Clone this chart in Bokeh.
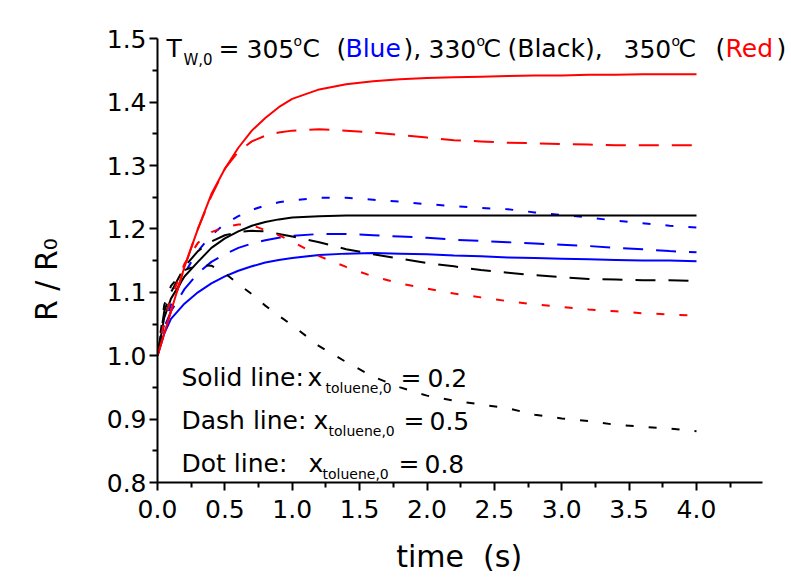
from bokeh.plotting import figure
from bokeh.models import FixedTicker, Label
from bokeh.embed import file_html
from bokeh.resources import INLINE

# ---------------- data ----------------
time_s = [0, 0.05, 0.1, 0.2, 0.3, 0.4, 0.5, 0.6, 0.7, 0.8, 0.9, 1.0, 1.2, 1.4, 1.6,
          1.8, 2.0, 2.2, 2.4, 2.6, 2.8, 3.0, 3.2, 3.4, 3.6, 3.8, 4.0]

# T_w,0 = 305 C (blue)
blue_x02 = [1.000, 1.035, 1.058, 1.082, 1.100, 1.114, 1.125, 1.134, 1.141, 1.147, 1.151, 1.154, 1.159, 1.161, 1.162,
            1.161, 1.160, 1.158, 1.157, 1.155, 1.154, 1.153, 1.152, 1.151, 1.150, 1.150, 1.149]
blue_x05 = [1.000, 1.045, 1.070, 1.105, 1.130, 1.148, 1.160, 1.170, 1.177, 1.182, 1.186, 1.189, 1.192, 1.192, 1.190,
            1.188, 1.186, 1.183, 1.181, 1.179, 1.177, 1.175, 1.173, 1.170, 1.168, 1.165, 1.163]
blue_x08 = [1.000, 1.050, 1.080, 1.130, 1.165, 1.190, 1.208, 1.220, 1.230, 1.237, 1.242, 1.245, 1.249, 1.249, 1.246,
            1.243, 1.239, 1.236, 1.233, 1.231, 1.226, 1.222, 1.218, 1.213, 1.209, 1.205, 1.202]
# T_w,0 = 330 C (black)
black_x02 = [1.000, 1.060, 1.090, 1.125, 1.148, 1.170, 1.185, 1.196, 1.205, 1.211, 1.215, 1.218, 1.220, 1.221, 1.221,
             1.221, 1.221, 1.221, 1.221, 1.221, 1.221, 1.221, 1.221, 1.221, 1.221, 1.221, 1.221]
black_x05 = [1.000, 1.070, 1.100, 1.140, 1.165, 1.180, 1.190, 1.195, 1.197, 1.196, 1.192, 1.188, 1.179, 1.168, 1.160,
             1.153, 1.146, 1.141, 1.135, 1.131, 1.127, 1.124, 1.121, 1.120, 1.119, 1.119, 1.118]
black_x08 = [1.000, 1.080, 1.110, 1.135, 1.143, 1.142, 1.130, 1.113, 1.097, 1.079, 1.063, 1.048, 1.015, 0.990, 0.967,
             0.950, 0.937, 0.929, 0.923, 0.917, 0.907, 0.901, 0.897, 0.891, 0.888, 0.885, 0.881]
# T_w,0 = 350 C (red)
red_x02 = [1.000, 1.035, 1.070, 1.140, 1.200, 1.255, 1.295, 1.328, 1.355, 1.375, 1.392, 1.405, 1.420, 1.428, 1.433,
           1.436, 1.438, 1.439, 1.440, 1.441, 1.442, 1.442, 1.443, 1.443, 1.444, 1.444, 1.444]
red_x05 = [1.000, 1.035, 1.070, 1.140, 1.200, 1.252, 1.295, 1.322, 1.338, 1.347, 1.352, 1.355, 1.357, 1.355, 1.352,
           1.348, 1.344, 1.340, 1.338, 1.336, 1.335, 1.334, 1.333, 1.332, 1.332, 1.332, 1.332]
red_x08 = [1.000, 1.055, 1.090, 1.145, 1.178, 1.195, 1.203, 1.207, 1.206, 1.198, 1.190, 1.180, 1.157, 1.140, 1.125,
           1.114, 1.106, 1.098, 1.092, 1.086, 1.081, 1.077, 1.073, 1.070, 1.067, 1.065, 1.063]

x_ticks = [0.0, 0.5, 1.0, 1.5, 2.0, 2.5, 3.0, 3.5, 4.0]
x_tick_labels = ["0.0", "0.5", "1.0", "1.5", "2.0", "2.5", "3.0", "3.5", "4.0"]
x_minor = [0.25, 0.75, 1.25, 1.75, 2.25, 2.75, 3.25, 3.75, 4.25]
y_ticks = [0.8, 0.9, 1.0, 1.1, 1.2, 1.3, 1.4, 1.5]
y_tick_labels = ["0.8", "0.9", "1.0", "1.1", "1.2", "1.3", "1.4", "1.5"]
y_minor = [0.85, 0.95, 1.05, 1.15, 1.25, 1.35, 1.45]
x_axis_extent = (0.0, 4.49)
y_axis_extent = (0.8, 1.5)

FONT = "DejaVu Sans"
NB = "\u00a0"

# frame spans up to the canvas top/right so the title text is not clipped;
# the axis lines are limited with bounds
XS, YS = 134.75, 634.0          # pixels per data unit
FW, FH = 632, 482
p = figure(frame_width=FW, frame_height=FH, min_border_left=157, min_border_right=0,
           min_border_top=0, min_border_bottom=96,
           x_range=(0, FW / XS), y_range=(0.8, 0.8 + FH / YS),
           output_backend="svg", toolbar_location=None)
p.title.visible = False
p.outline_line_color = None
p.xgrid.visible = False
p.ygrid.visible = False
p.background_fill_color = "white"
p.border_fill_color = "white"

p.xaxis.ticker = FixedTicker(ticks=x_ticks, minor_ticks=x_minor)
p.yaxis.ticker = FixedTicker(ticks=y_ticks, minor_ticks=y_minor)
p.xaxis.major_label_overrides = dict(zip(x_ticks, x_tick_labels))
p.yaxis.major_label_overrides = dict(zip(y_ticks, y_tick_labels))
p.xaxis.bounds = x_axis_extent
p.yaxis.bounds = y_axis_extent
for ax in (p.xaxis[0], p.yaxis[0]):
    ax.axis_line_width = 2
    ax.major_tick_line_width = 2
    ax.minor_tick_line_width = 2
    ax.major_tick_in = 0
    ax.major_tick_out = 8
    ax.minor_tick_in = 0
    ax.minor_tick_out = 5
    ax.major_label_text_font = FONT
    ax.major_label_text_font_size = "25px"
    ax.major_label_text_color = "black"
    ax.axis_label_text_font = FONT
    ax.axis_label_text_font_style = "normal"
    ax.axis_label_text_color = "black"
p.xaxis.major_label_standoff = 9
p.yaxis.major_label_standoff = 3
p.xaxis.axis_label = "time" + NB + NB + "(s)" + NB * 3
p.xaxis.axis_label_text_font_size = "30px"
p.xaxis.axis_label_standoff = 18
p.yaxis.axis_label = "R / R\u2080" + NB * 8
p.yaxis.axis_label_text_font_size = "30px"
p.yaxis.axis_label_standoff = 40

series = [
    (blue_x02, "blue", "solid"), (blue_x05, "blue", "20 13"), (blue_x08, "blue", "8 15"),
    (black_x02, "black", "solid"), (black_x05, "black", "20 13"), (black_x08, "black", "8 15"),
    (red_x02, "red", "solid"), (red_x05, "red", "20 13"), (red_x08, "red", "8 15"),
]
for vals, col, dash in series:
    p.line(time_s, vals, line_color=col, line_width=2, line_dash=dash)

# page-pixel -> data helpers for text placement
def dx(px):
    return (px - 157) / XS

def dy(py):
    return 0.8 + (482 - py) / YS

def lab(text, px, py, size, color="black"):
    p.add_layout(Label(x=dx(px), y=dy(py), text=text, text_font=FONT,
                       text_font_size=f"{size}px", text_color=color,
                       text_align="left", text_baseline="alphabetic"))

# Title line
TB = 48
lab("T", 166, TB, 25)
lab("W,0", 183, TB + 11, 15)
lab("=", 218, TB, 25)
lab("305", 246, TB, 25)
lab("o", 293, TB - 8, 14)
lab("C", 302, TB, 25)
lab("(", 336, TB, 25)
lab("Blue", 345, TB, 25, "#0000ff")
lab("),", 403, TB, 25)
lab("330", 428, TB, 25)
lab("o", 476, TB - 8, 14)
lab("C", 483, TB, 25)
lab("(Black),", 507, TB, 25)
lab("350", 623, TB, 25)
lab("o", 671, TB - 8, 14)
lab("C", 678, TB, 25)
lab("(", 715, TB, 25)
lab("Red", 725, TB, 25, "#ff0000")
lab(")", 776, TB, 25)

# Legend texts
for name, base, xx, sub_x, eq_x, val_x, val in [
    ("Solid line:", 377, 307, 325, 400, 427, "0.2"),
    ("Dash line:", 420, 313, 328, 403, 429, "0.5"),
    ("Dot line:", 463, 308, 322, 398, 424, "0.8"),
]:
    lab(name, 181, base, 25)
    lab("x", xx, base, 25)
    lab("toluene,0", sub_x, base + 10, 14)
    lab("=", eq_x, base, 25)
    lab(val, val_x, base, 25)

open("out.html", "w").write(file_html(p, INLINE))
